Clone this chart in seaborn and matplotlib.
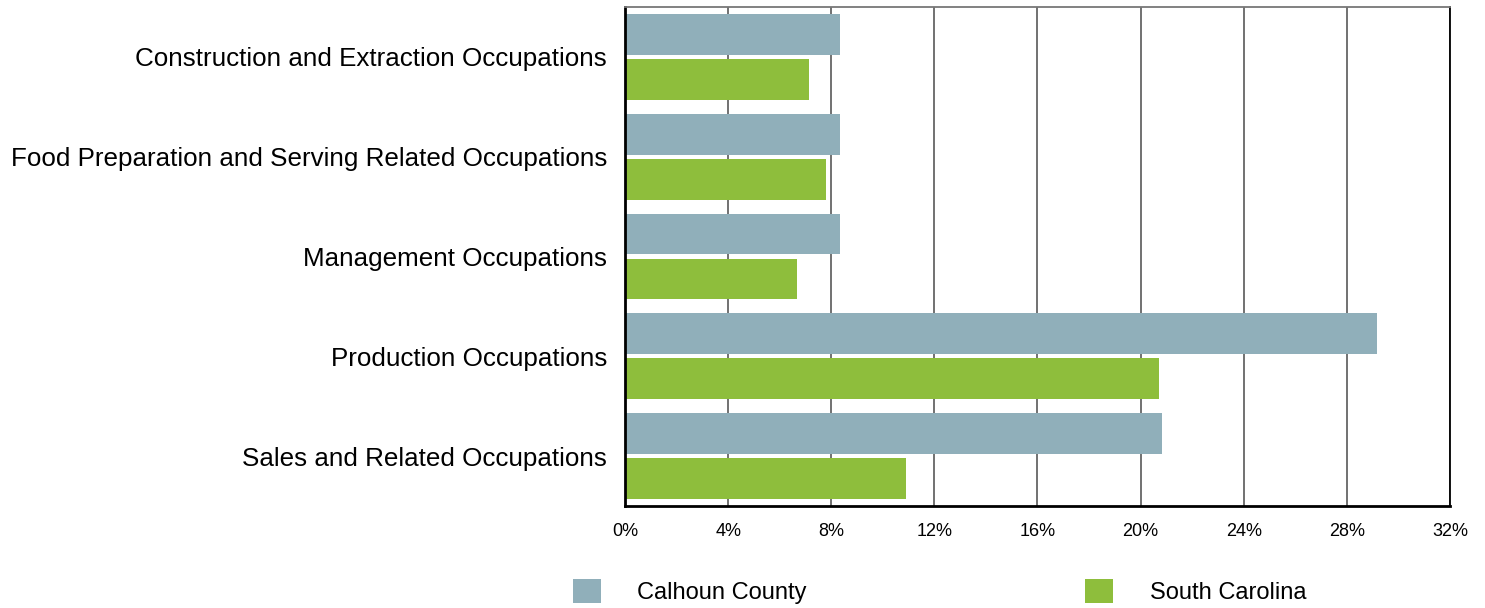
import pandas as pd
import matplotlib.pyplot as plt
import seaborn as sns
from matplotlib.patches import Patch

occupations = ['Construction and Extraction Occupations',
               'Food Preparation and Serving Related Occupations',
               'Management Occupations',
               'Production Occupations',
               'Sales and Related Occupations']
calhoun = [8.34, 8.34, 8.34, 29.17, 20.83]
south_carolina = [7.14, 7.80, 6.67, 20.71, 10.90]
areas = ['Calhoun County', 'South Carolina']
colors = ['#90AFBA', '#8EBE3C']

df = pd.DataFrame({
    'occupation': occupations * 2,
    'area': [areas[0]] * 5 + [areas[1]] * 5,
    'share': calhoun + south_carolina,
})

sns.set_style('white')
plt.rcParams['font.family'] = ['Liberation Sans', 'DejaVu Sans']
plt.rcParams['text.color'] = 'black'
plt.rcParams['xtick.color'] = 'black'
plt.rcParams['ytick.color'] = 'black'

fig = plt.figure(figsize=(14.85, 6.08), dpi=100)
ax = fig.add_axes([0.4209, 0.1678, 0.5555, 0.8207])

sns.barplot(data=df, y='occupation', x='share', hue='area', order=occupations,
            palette=colors, orient='h', width=0.9, gap=0.09, saturation=1,
            linewidth=0, legend=False, ax=ax)

ax.set_xlim(0, 32)
ax.set_ylim(4.5, -0.5)
ax.set_xticks(range(0, 33, 4))
ax.set_xticklabels([f'{v}%' for v in range(0, 33, 4)], fontsize=13)
ax.tick_params(axis='y', labelsize=18.7, length=0, pad=13)
ax.tick_params(axis='x', length=0, pad=12)
ax.set_xlabel('')
ax.set_ylabel('')
ax.grid(axis='x', color='#4a4a4a', linewidth=1.1)
ax.set_axisbelow(True)
for side in ['left', 'bottom']:
    ax.spines[side].set_color('black')
    ax.spines[side].set_linewidth(2)
ax.spines['right'].set_color('black')
ax.spines['right'].set_linewidth(1.3)
ax.spines['top'].set_color('#777777')
ax.spines['top'].set_linewidth(1.3)

handles = [Patch(facecolor=c, edgecolor='none') for c in colors]
fig.legend(handles, areas, loc='center left', bbox_to_anchor=(0.3859, 0.027),
           ncol=2, frameon=False, fontsize=17, handlelength=1.19,
           handleheight=1.14, handletextpad=1.53, columnspacing=11.8,
           borderpad=0, borderaxespad=0)

fig.savefig('out.png', dpi=100)
